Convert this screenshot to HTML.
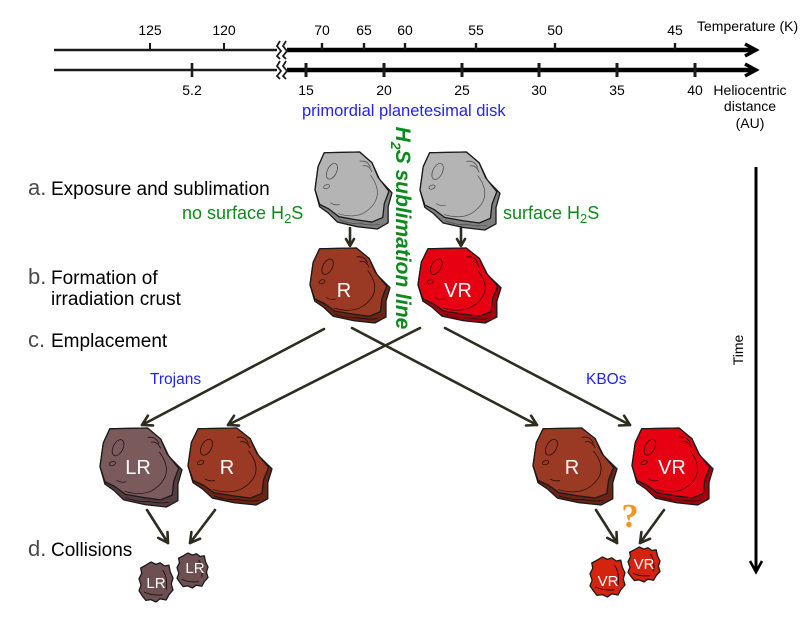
<!DOCTYPE html>
<html>
<head>
<meta charset="utf-8">
<style>
html,body{margin:0;padding:0;background:#fff;}
svg{display:block;}
text{font-family:"Liberation Sans",Arial,sans-serif;}
.o{stroke:#1a1a1a;stroke-width:1.3;vector-effect:non-scaling-stroke;stroke-linejoin:round;}
.d{fill:none;stroke-width:0.9;vector-effect:non-scaling-stroke;}
.ar{fill:none;stroke:#2d2c20;stroke-width:2.6;stroke-linecap:round;stroke-linejoin:round;}
</style>
</head>
<body>
<svg width="812" height="623" viewBox="0 0 812 623" xmlns="http://www.w3.org/2000/svg">
<rect width="812" height="623" fill="#fff"/>

<!-- AXES -->
<g stroke="#1a1a1a" fill="none">
  <line x1="54" y1="50" x2="277" y2="50" stroke-width="2.6"/>
  <line x1="54" y1="70" x2="277" y2="70" stroke-width="2.6"/>
  <line x1="287" y1="50" x2="754" y2="50" stroke="#000" stroke-width="4.5"/>
  <line x1="287" y1="70" x2="754" y2="70" stroke="#000" stroke-width="4.5"/>
  <polyline points="745,44 756,50 745,56" stroke="#000" stroke-width="3.5"/>
  <polyline points="745,64 756,70 745,76" stroke="#000" stroke-width="3.5"/>
  <!-- breaks -->
  <polyline points="280,41 277,46 281,51 277,56 280,59" stroke-width="1.8"/>
  <polyline points="286,41 283,46 287,51 283,56 286,59" stroke-width="1.8"/>
  <polyline points="280,61 277,66 281,71 277,76 280,79" stroke-width="1.8"/>
  <polyline points="286,61 283,66 287,71 283,76 286,79" stroke-width="1.8"/>
  <!-- top ticks -->
  <line x1="150" y1="43" x2="150" y2="50" stroke-width="2"/>
  <line x1="224" y1="43" x2="224" y2="50" stroke-width="2"/>
  <line x1="322" y1="43" x2="322" y2="50" stroke-width="2.4"/>
  <line x1="364" y1="43" x2="364" y2="50" stroke-width="2.4"/>
  <line x1="405" y1="43" x2="405" y2="50" stroke-width="2.4"/>
  <line x1="476" y1="43" x2="476" y2="50" stroke-width="2.4"/>
  <line x1="555" y1="43" x2="555" y2="50" stroke-width="2.4"/>
  <line x1="675" y1="43" x2="675" y2="50" stroke-width="2.4"/>
  <!-- bottom ticks -->
  <line x1="192" y1="63" x2="192" y2="77" stroke-width="2.6"/>
  <line x1="306" y1="63" x2="306" y2="77" stroke-width="3"/>
  <line x1="384" y1="63" x2="384" y2="77" stroke-width="3"/>
  <line x1="462" y1="63" x2="462" y2="77" stroke-width="3"/>
  <line x1="539" y1="63" x2="539" y2="77" stroke-width="3"/>
  <line x1="617" y1="63" x2="617" y2="77" stroke-width="3"/>
  <line x1="695" y1="63" x2="695" y2="77" stroke-width="3"/>
</g>
<g font-size="14" fill="#000" text-anchor="middle">
  <text x="150" y="35">125</text>
  <text x="224" y="35">120</text>
  <text x="322" y="35">70</text>
  <text x="364" y="35">65</text>
  <text x="405" y="35">60</text>
  <text x="476" y="35">55</text>
  <text x="555" y="35">50</text>
  <text x="675" y="35">45</text>
  <text x="192" y="95">5.2</text>
  <text x="306" y="95">15</text>
  <text x="384" y="95">20</text>
  <text x="462" y="95">25</text>
  <text x="539" y="95">30</text>
  <text x="617" y="95">35</text>
  <text x="695" y="95">40</text>
  <text x="750" y="95">Heliocentric</text>
  <text x="750" y="111">distance</text>
  <text x="750" y="128">(AU)</text>
</g>
<text x="697" y="31" font-size="14">Temperature (K)</text>
<text x="302" y="116" font-size="16.5" fill="#2323ee">primordial planetesimal disk</text>

<!-- H2S sublimation line -->
<text transform="translate(396,228) rotate(90)" text-anchor="middle" font-size="21" font-weight="bold" font-style="italic" fill="#0e8a1c">H<tspan font-size="14" dy="5">2</tspan><tspan dy="-5">S sublimation line</tspan></text>

<!-- left labels -->
<g fill="#000" font-size="19">
  <text x="28" y="195" font-size="22" fill="#4a4a4a">a.</text>
  <text x="51" y="195">Exposure and sublimation</text>
  <text x="28" y="284" font-size="22" fill="#4a4a4a">b.</text>
  <text x="51" y="284">Formation of</text>
  <text x="51" y="305">irradiation crust</text>
  <text x="28" y="347" font-size="22" fill="#4a4a4a">c.</text>
  <text x="51" y="347">Emplacement</text>
  <text x="28" y="556" font-size="22" fill="#4a4a4a">d.</text>
  <text x="51" y="556">Collisions</text>
</g>
<g font-size="18" fill="#0e8a1c">
  <text x="182" y="219">no surface H<tspan font-size="13" dy="4">2</tspan><tspan dy="-4">S</tspan></text>
  <text x="503" y="219">surface H<tspan font-size="13" dy="4">2</tspan><tspan dy="-4">S</tspan></text>
</g>
<g font-size="15.5" fill="#2323ee">
  <text x="150" y="384">Trojans</text>
  <text x="586" y="384">KBOs</text>
</g>

<!-- Time arrow -->
<line x1="756" y1="167" x2="756" y2="571" stroke="#000" stroke-width="3"/>
<polyline points="750,561 756,572 762,561" fill="none" stroke="#000" stroke-width="2.6"/>
<text transform="translate(743,350) rotate(-90)" text-anchor="middle" font-size="14">Time</text>

<!-- ARROWS -->
<g class="ar">
  <line x1="350" y1="228" x2="350" y2="245"/>
  <polyline points="346,239 350,246 354,239"/>
  <line x1="461" y1="228" x2="461" y2="245"/>
  <polyline points="457,239 461,246 465,239"/>

  <line x1="324" y1="329" x2="142" y2="425"/>
  <polyline points="153,425.4 142,425 147.9,415.7"/>
  <line x1="420" y1="328" x2="228" y2="425"/>
  <polyline points="239,425.6 228,425 234,415.8"/>
  <line x1="352" y1="328" x2="537" y2="425"/>
  <polyline points="531.1,415.7 537,425 526,425.5"/>
  <line x1="445" y1="328" x2="630" y2="425"/>
  <polyline points="624.1,415.7 630,425 619,425.5"/>

  <line x1="147" y1="510" x2="168" y2="543"/>
  <polyline points="167.5,532 168,543 158.2,537.9"/>
  <line x1="215" y1="510" x2="190" y2="543"/>
  <polyline points="200.1,538.7 190,543 191.4,532.1"/>
  <line x1="596" y1="510" x2="617" y2="543"/>
  <polyline points="616.5,532 617,543 607.2,537.9"/>
  <line x1="664" y1="510" x2="640" y2="543"/>
  <polyline points="650.1,538.7 640,543 641.4,532.1"/>
</g>

<!-- ROCKS -->
<!-- gray left -->
<g transform="translate(315,152) scale(0.77,0.77)">
  <polygon class="o" fill="#7f7f7f" points="12,1 58,0 74,14 84,36 100,53 95,71 95,92 81,100 55,97 29,91 17,79 6,71 0,49 4,19"/>
  <polygon class="o" fill="#b4b4b4" points="12,1 58,0 74,14 82,33 96,51 90,67 88,85 74,91 53,88 31,84 18,74 6,68 0,49 4,19"/>
  <g class="d" stroke="#4a4a4a">
    <ellipse cx="22" cy="25" rx="6" ry="11" transform="rotate(25 22 25)"/>
    <ellipse cx="15" cy="45" rx="4" ry="2.5" transform="rotate(-20 15 45)"/>
    <path d="M58,12 Q68,10 72,20"/><path d="M62,18 Q70,16 74,26"/>
    <path d="M72,30 Q84,46 80,60 Q76,72 62,80 Q48,86 30,80"/>
    <path d="M20,66 Q26,70 32,68"/>
    <path d="M31,88 Q45,94 60,93 Q74,96 84,94"/>
  </g>
</g>
<!-- gray right -->
<g transform="translate(420,152) scale(0.80,0.78)">
  <polygon class="o" fill="#7f7f7f" points="12,1 58,0 74,14 84,36 100,53 95,71 95,92 81,100 55,97 29,91 17,79 6,71 0,49 4,19"/>
  <polygon class="o" fill="#b4b4b4" points="12,1 58,0 74,14 82,33 96,51 90,67 88,85 74,91 53,88 31,84 18,74 6,68 0,49 4,19"/>
  <g class="d" stroke="#4a4a4a">
    <ellipse cx="22" cy="25" rx="6" ry="11" transform="rotate(25 22 25)"/>
    <ellipse cx="15" cy="45" rx="4" ry="2.5" transform="rotate(-20 15 45)"/>
    <path d="M58,12 Q68,10 72,20"/><path d="M62,18 Q70,16 74,26"/>
    <path d="M72,30 Q84,46 80,60 Q76,72 62,80 Q48,86 30,80"/>
    <path d="M20,66 Q26,70 32,68"/>
    <path d="M31,88 Q45,94 60,93 Q74,96 84,94"/>
  </g>
</g>
<!-- R middle -->
<g transform="translate(310,248) scale(0.80,0.75)">
  <polygon class="o" fill="#6a2414" points="12,1 58,0 74,14 84,36 100,53 95,71 95,92 81,100 55,97 29,91 17,79 6,71 0,49 4,19"/>
  <polygon class="o" fill="#9b3a24" points="12,1 58,0 74,14 82,33 96,51 90,67 88,85 74,91 53,88 31,84 18,74 6,68 0,49 4,19"/>
  <g class="d" stroke="#1a0a05">
    <ellipse cx="22" cy="25" rx="6" ry="11" transform="rotate(25 22 25)"/>
    <ellipse cx="15" cy="45" rx="4" ry="2.5" transform="rotate(-20 15 45)"/>
    <path d="M58,12 Q68,10 72,20"/><path d="M62,18 Q70,16 74,26"/>
    <path d="M72,30 Q84,46 80,60 Q76,72 62,80 Q48,86 30,80"/>
    <path d="M20,66 Q26,70 32,68"/>
    <path d="M31,88 Q45,94 60,93 Q74,96 84,94"/>
  </g>
</g>
<!-- VR middle -->
<g transform="translate(418,248) scale(0.83,0.75)">
  <polygon class="o" fill="#a6000c" points="12,1 58,0 74,14 84,36 100,53 95,71 95,92 81,100 55,97 29,91 17,79 6,71 0,49 4,19"/>
  <polygon class="o" fill="#e60012" points="12,1 58,0 74,14 82,33 96,51 90,67 88,85 74,91 53,88 31,84 18,74 6,68 0,49 4,19"/>
  <g class="d" stroke="#2a0003">
    <ellipse cx="22" cy="25" rx="6" ry="11" transform="rotate(25 22 25)"/>
    <ellipse cx="15" cy="45" rx="4" ry="2.5" transform="rotate(-20 15 45)"/>
    <path d="M58,12 Q68,10 72,20"/><path d="M62,18 Q70,16 74,26"/>
    <path d="M72,30 Q84,46 80,60 Q76,72 62,80 Q48,86 30,80"/>
    <path d="M20,66 Q26,70 32,68"/>
    <path d="M31,88 Q45,94 60,93 Q74,96 84,94"/>
  </g>
</g>
<!-- LR bottom -->
<g transform="translate(100,428) scale(0.82,0.79)">
  <polygon class="o" fill="#553c3e" points="12,1 58,0 74,14 84,36 100,53 95,71 95,92 81,100 55,97 29,91 17,79 6,71 0,49 4,19"/>
  <polygon class="o" fill="#7b5a5c" points="12,1 58,0 74,14 82,33 96,51 90,67 88,85 74,91 53,88 31,84 18,74 6,68 0,49 4,19"/>
  <g class="d" stroke="#1a0f10">
    <ellipse cx="22" cy="25" rx="6" ry="11" transform="rotate(25 22 25)"/>
    <ellipse cx="15" cy="45" rx="4" ry="2.5" transform="rotate(-20 15 45)"/>
    <path d="M58,12 Q68,10 72,20"/><path d="M62,18 Q70,16 74,26"/>
    <path d="M72,30 Q84,46 80,60 Q76,72 62,80 Q48,86 30,80"/>
    <path d="M20,66 Q26,70 32,68"/>
    <path d="M31,88 Q45,94 60,93 Q74,96 84,94"/>
  </g>
</g>
<!-- R bottom left -->
<g transform="translate(188,428) scale(0.84,0.77)">
  <polygon class="o" fill="#6a2414" points="12,1 58,0 74,14 84,36 100,53 95,71 95,92 81,100 55,97 29,91 17,79 6,71 0,49 4,19"/>
  <polygon class="o" fill="#9b3a24" points="12,1 58,0 74,14 82,33 96,51 90,67 88,85 74,91 53,88 31,84 18,74 6,68 0,49 4,19"/>
  <g class="d" stroke="#1a0a05">
    <ellipse cx="22" cy="25" rx="6" ry="11" transform="rotate(25 22 25)"/>
    <ellipse cx="15" cy="45" rx="4" ry="2.5" transform="rotate(-20 15 45)"/>
    <path d="M58,12 Q68,10 72,20"/><path d="M62,18 Q70,16 74,26"/>
    <path d="M72,30 Q84,46 80,60 Q76,72 62,80 Q48,86 30,80"/>
    <path d="M20,66 Q26,70 32,68"/>
    <path d="M31,88 Q45,94 60,93 Q74,96 84,94"/>
  </g>
</g>
<!-- R bottom right -->
<g transform="translate(533,428) scale(0.84,0.77)">
  <polygon class="o" fill="#6a2414" points="12,1 58,0 74,14 84,36 100,53 95,71 95,92 81,100 55,97 29,91 17,79 6,71 0,49 4,19"/>
  <polygon class="o" fill="#9b3a24" points="12,1 58,0 74,14 82,33 96,51 90,67 88,85 74,91 53,88 31,84 18,74 6,68 0,49 4,19"/>
  <g class="d" stroke="#1a0a05">
    <ellipse cx="22" cy="25" rx="6" ry="11" transform="rotate(25 22 25)"/>
    <ellipse cx="15" cy="45" rx="4" ry="2.5" transform="rotate(-20 15 45)"/>
    <path d="M58,12 Q68,10 72,20"/><path d="M62,18 Q70,16 74,26"/>
    <path d="M72,30 Q84,46 80,60 Q76,72 62,80 Q48,86 30,80"/>
    <path d="M20,66 Q26,70 32,68"/>
    <path d="M31,88 Q45,94 60,93 Q74,96 84,94"/>
  </g>
</g>
<!-- VR bottom right -->
<g transform="translate(632,428) scale(0.81,0.77)">
  <polygon class="o" fill="#a6000c" points="12,1 58,0 74,14 84,36 100,53 95,71 95,92 81,100 55,97 29,91 17,79 6,71 0,49 4,19"/>
  <polygon class="o" fill="#e60012" points="12,1 58,0 74,14 82,33 96,51 90,67 88,85 74,91 53,88 31,84 18,74 6,68 0,49 4,19"/>
  <g class="d" stroke="#2a0003">
    <ellipse cx="22" cy="25" rx="6" ry="11" transform="rotate(25 22 25)"/>
    <ellipse cx="15" cy="45" rx="4" ry="2.5" transform="rotate(-20 15 45)"/>
    <path d="M58,12 Q68,10 72,20"/><path d="M62,18 Q70,16 74,26"/>
    <path d="M72,30 Q84,46 80,60 Q76,72 62,80 Q48,86 30,80"/>
    <path d="M20,66 Q26,70 32,68"/>
    <path d="M31,88 Q45,94 60,93 Q74,96 84,94"/>
  </g>
</g>

<!-- small rocks -->
<g transform="translate(139,562) scale(0.34,0.40)">
  <polygon class="o" fill="#6e5052" points="20,8 35,0 50,6 62,2 75,10 88,8 92,25 100,40 95,55 100,70 88,82 80,95 62,92 50,100 35,94 20,96 10,85 0,72 6,58 0,42 8,28 5,15"/>
  <path class="d" stroke="#1a0f10" d="M70,20 Q85,40 80,70 M15,75 Q40,85 70,82"/>
</g>
<g transform="translate(177,553) scale(0.31,0.35)">
  <polygon class="o" fill="#6e5052" points="20,8 35,0 50,6 62,2 75,10 88,8 92,25 100,40 95,55 100,70 88,82 80,95 62,92 50,100 35,94 20,96 10,85 0,72 6,58 0,42 8,28 5,15"/>
  <path class="d" stroke="#1a0f10" d="M70,20 Q85,40 80,70 M15,75 Q40,85 70,82"/>
</g>
<g transform="translate(590,557) scale(0.35,0.40)">
  <polygon class="o" fill="#d42410" points="20,8 35,0 50,6 62,2 75,10 88,8 92,25 100,40 95,55 100,70 88,82 80,95 62,92 50,100 35,94 20,96 10,85 0,72 6,58 0,42 8,28 5,15"/>
  <path class="d" stroke="#2a0003" d="M70,20 Q85,40 80,70 M15,75 Q40,85 70,82"/>
</g>
<g transform="translate(628,547) scale(0.32,0.35)">
  <polygon class="o" fill="#d42410" points="20,8 35,0 50,6 62,2 75,10 88,8 92,25 100,40 95,55 100,70 88,82 80,95 62,92 50,100 35,94 20,96 10,85 0,72 6,58 0,42 8,28 5,15"/>
  <path class="d" stroke="#2a0003" d="M70,20 Q85,40 80,70 M15,75 Q40,85 70,82"/>
</g>

<!-- rock labels -->
<g fill="#fff" font-size="20" text-anchor="middle">
  <text x="344" y="297">R</text>
  <text x="458" y="297">VR</text>
  <text x="138" y="474">LR</text>
  <text x="227" y="474">R</text>
  <text x="572" y="474">R</text>
  <text x="672" y="474">VR</text>
</g>
<g fill="#fff" font-size="15" text-anchor="middle">
  <text x="156" y="588">LR</text>
  <text x="195" y="573">LR</text>
  <text x="608" y="586">VR</text>
  <text x="644" y="569">VR</text>
</g>

<text x="630" y="527" text-anchor="middle" font-family="Liberation Serif, serif" font-weight="bold" font-size="34" fill="#f7931e" style="font-family:'Liberation Serif',serif">?</text>
</svg>
</body>
</html>
